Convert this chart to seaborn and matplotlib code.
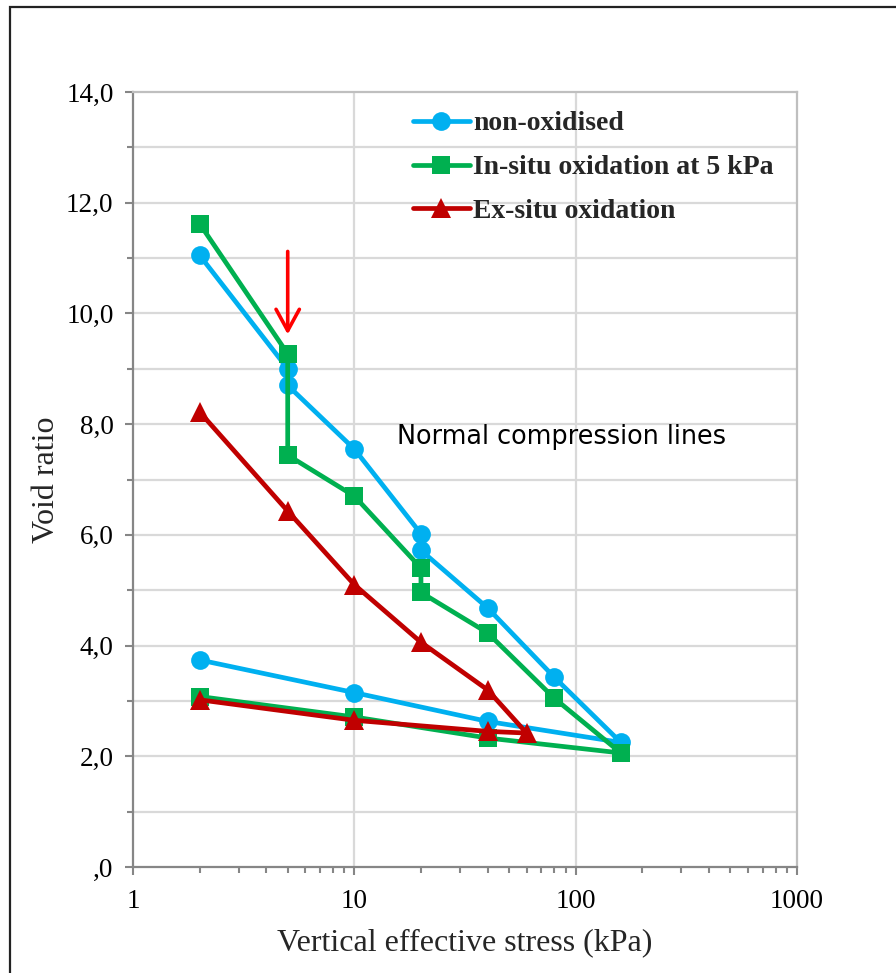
import numpy as np
import pandas as pd
import matplotlib
matplotlib.use("Agg")
import matplotlib.pyplot as plt
import matplotlib.ticker as mticker
from matplotlib.patches import Rectangle
import seaborn as sns

# ---------------- data ----------------
non_ox_stress = [2, 5, 5, 10, 20, 20, 40, 80, 160, 40, 10, 2]
non_ox_void = [11.05, 9.00, 8.70, 7.55, 6.02, 5.72, 4.68, 3.43, 2.25, 2.63, 3.15, 3.74]

insitu_stress = [2, 5, 5, 10, 20, 20, 40, 80, 160, 40, 10, 2]
insitu_void = [11.62, 9.27, 7.44, 6.70, 5.40, 4.96, 4.23, 3.05, 2.06, 2.33, 2.71, 3.08]

exsitu_stress = [2, 5, 10, 20, 40, 60, 40, 10, 2]
exsitu_void = [8.22, 6.43, 5.10, 4.06, 3.20, 2.42, 2.45, 2.65, 3.02]

series_names = ["non-oxidised", "In-situ oxidation at 5 kPa", "Ex-situ oxidation"]
x_ticks = [1, 10, 100, 1000]
x_tick_labels = ["1", "10", "100", "1000"]
y_ticks = [0, 2, 4, 6, 8, 10, 12, 14]
y_tick_labels = [",0", "2,0", "4,0", "6,0", "8,0", "10,0", "12,0", "14,0"]
annotation_text = "Normal compression lines"
arrow_stress = 5
arrow_from, arrow_to = 11.12, 9.62

# ---------------- style ----------------
sns.set_theme(style="white")
plt.rcParams["font.family"] = ["Liberation Serif", "DejaVu Serif"]

W, H = 896, 973
fig = plt.figure(figsize=(W / 100, H / 100), dpi=100)
ax = fig.add_axes([133 / W, (H - 867) / H, (797 - 133) / W, (867 - 92) / H])

colors = ["#00b0f0", "#00b050", "#c00000"]
markers = ["o", "s", "^"]
msizes = [13.5, 13, 14]
datasets = [(non_ox_stress, non_ox_void), (insitu_stress, insitu_void), (exsitu_stress, exsitu_void)]

for (xs, ys), name, c, m, ms in zip(datasets, series_names, colors, markers, msizes):
    df = pd.DataFrame({"stress": xs, "void": ys})
    sns.lineplot(data=df, x="stress", y="void", sort=False, estimator=None, ax=ax,
                 color=c, marker=m, markersize=ms, markeredgewidth=0, linewidth=3.4,
                 label=name, zorder=3)

ax.set_xscale("log")
ax.set_xlim(1, 1000)
ax.set_ylim(0, 14)

ax.set_xticks(x_ticks)
ax.set_xticklabels(x_tick_labels)
ax.xaxis.set_minor_locator(mticker.LogLocator(base=10, subs=np.arange(2, 10)))
ax.xaxis.set_minor_formatter(mticker.NullFormatter())
ax.set_yticks(y_ticks)
ax.set_yticklabels(y_tick_labels)
ax.yaxis.set_minor_locator(mticker.MultipleLocator(1))

ax.tick_params(axis="both", which="major", direction="out", length=6, width=1.5,
               color="#868686", labelsize=19.5, labelcolor="black")
ax.tick_params(axis="both", which="minor", direction="out", length=4, width=1.5, color="#868686")
ax.tick_params(axis="x", which="major", pad=10)
ax.tick_params(axis="y", which="major", pad=8)
ax.tick_params(axis="both", which="both", bottom=True, left=True, top=False, right=False)

# gridlines
ax.grid(False)
for yv in range(1, 14):
    ax.axhline(yv, color="#d9d9d9", lw=1.6, zorder=0)
for xv in [10, 100]:
    ax.axvline(xv, color="#d9d9d9", lw=1.6, zorder=0)

for s in ["left", "bottom"]:
    ax.spines[s].set_color("#868686")
    ax.spines[s].set_linewidth(1.6)
for s in ["top", "right"]:
    ax.spines[s].set_color("#bfbfbf")
    ax.spines[s].set_linewidth(1.6)

ax.set_xlabel("Vertical effective stress (kPa)", fontsize=23, labelpad=10)
ax.set_ylabel("Void ratio", fontsize=23, labelpad=4)

ax.text(0.645, 0.555, annotation_text, transform=ax.transAxes, fontsize=18.4,
        family="DejaVu Sans", ha="center", va="center", color="black")

ax.annotate("", xy=(arrow_stress, arrow_to), xytext=(arrow_stress, arrow_from),
            arrowprops=dict(arrowstyle="->,head_length=0.55,head_width=0.3",
                            color="#ff0000", lw=2.6, mutation_scale=28,
                            shrinkA=0, shrinkB=0), zorder=5)

leg = ax.legend(loc="upper left", bbox_to_anchor=(413 / W, 1 - 111 / H),
                bbox_transform=fig.transFigure, frameon=False, borderpad=0,
                borderaxespad=0, handlelength=2.05, handletextpad=0.12,
                labelspacing=0.66, prop={"family": "Liberation Serif", "weight": "bold", "size": 20})

# outer frame
fig.patches.append(Rectangle((10 / W, -0.05), 1.2, 1 - 7 / H + 0.05, transform=fig.transFigure,
                             fill=False, edgecolor="#222222", lw=1.6, clip_on=False))

fig.savefig("out.png", dpi=100)
